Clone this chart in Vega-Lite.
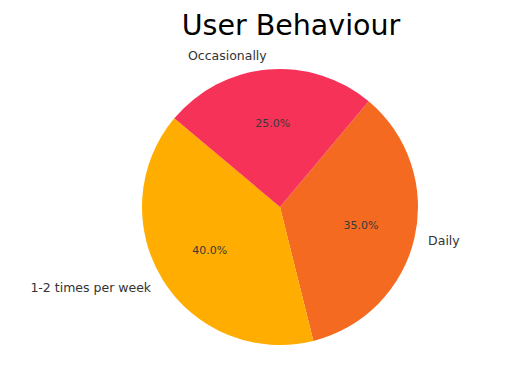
{
  "$schema": "https://vega.github.io/schema/vega-lite/v6.json",
  "width": 300,
  "height": 300,
  "autosize": {"type": "none"},
  "padding": {"left": 130, "top": 57, "right": 97, "bottom": 11},
  "background": "white",
  "title": {"text": "User Behaviour", "fontSize": 28.5, "font": "DejaVu Sans", "fontWeight": "normal", "color": "#000000", "anchor": "middle", "dx": 11, "offset": -14, "frame": "group", "baseline": "alphabetic"},
  "config": {"view": {"stroke": null}},
  "data": {"values": [
    {"cat": "Daily", "share": 0.35, "order": 1},
    {"cat": "1-2 times per week", "share": 0.40, "order": 2},
    {"cat": "Occasionally", "share": 0.25, "order": 3}
  ]},
  "encoding": {
    "theta": {"field": "share", "type": "quantitative", "stack": true, "scale": {"range": [0.6981, 6.9813]}},
    "order": {"field": "order", "type": "quantitative"}
  },
  "layer": [
    {
      "mark": {"type": "arc", "outerRadius": 138},
      "encoding": {
        "color": {"field": "cat", "type": "nominal", "legend": null,
          "scale": {"domain": ["Daily", "1-2 times per week", "Occasionally"], "range": ["#F46A21", "#FFAD00", "#F63259"]}}
      }
    },
    {
      "mark": {"type": "text", "radius": 83, "font": "DejaVu Sans", "fontSize": 11, "color": "#3a3a3a"},
      "encoding": {"text": {"field": "share", "type": "quantitative", "format": ".1%"}}
    },
    {
      "mark": {"type": "text", "radius": 152, "font": "DejaVu Sans", "fontSize": 12.5, "color": "#333333", "align": "right", "baseline": "middle"},
      "encoding": {"text": {"condition": {"test": "datum.cat !== 'Daily'", "field": "cat"}, "value": ""}}
    },
    {
      "mark": {"type": "text", "radius": 152, "font": "DejaVu Sans", "fontSize": 12.5, "color": "#333333", "align": "left", "baseline": "middle"},
      "encoding": {"text": {"condition": {"test": "datum.cat === 'Daily'", "field": "cat"}, "value": ""}}
    }
  ]
}
